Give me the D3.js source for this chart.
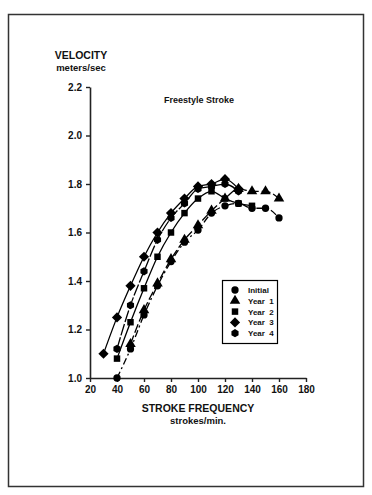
<!DOCTYPE html>
<html>
<head>
<meta charset="utf-8">
<title>Freestyle Stroke</title>
<script src="https://d3js.org/d3.v7.min.js"></script>
<style>
	body { margin: 0; background: #fff; }
	text { font-family: "Liberation Sans", Arial, sans-serif; font-weight: bold; fill: #111; }
</style>
</head>
<body>
<script type="text/javascript">
	var screenWidth  = 372;
	var screenHeight = 495;

	// data
	var seriesNames = ["Initial", "Year  1", "Year  2", "Year  3", "Year  4"];

	var initialX = [40, 50, 60, 70, 80, 90, 100, 110, 120, 130, 140, 150, 160];
	var initialY = [1.00, 1.12, 1.26, 1.38, 1.48, 1.56, 1.61, 1.68, 1.71, 1.72, 1.70, 1.70, 1.66];

	var year1X = [50, 60, 70, 80, 90, 100, 110, 120, 130, 140, 150, 160];
	var year1Y = [1.14, 1.28, 1.39, 1.49, 1.57, 1.63, 1.69, 1.74, 1.78, 1.77, 1.77, 1.74];

	var year2X = [40, 50, 60, 70, 80, 90, 100, 110, 120, 130, 140];
	var year2Y = [1.08, 1.23, 1.37, 1.50, 1.60, 1.68, 1.74, 1.77, 1.74, 1.72, 1.71];

	var year3X = [30, 40, 50, 60, 70, 80, 90, 100, 110, 120, 130];
	var year3Y = [1.10, 1.25, 1.38, 1.50, 1.60, 1.68, 1.74, 1.79, 1.80, 1.82, 1.78];

	var year4X = [40, 50, 60, 70, 80, 90, 100, 110, 120, 130];
	var year4Y = [1.12, 1.30, 1.44, 1.57, 1.66, 1.72, 1.78, 1.79, 1.80, 1.77];

	var xTicks = [20, 40, 60, 80, 100, 120, 140, 160, 180];
	var yTicks = [1.0, 1.2, 1.4, 1.6, 1.8, 2.0, 2.2];

	var hexagon = {
		draw: function(ctx, size) {
			var r = Math.sqrt(size / 2.598);
			for (var i = 0; i < 6; i++) {
				var a = Math.PI / 6 + i * Math.PI / 3;
				if (i == 0) ctx.moveTo(r * Math.cos(a), r * Math.sin(a));
				else ctx.lineTo(r * Math.cos(a), r * Math.sin(a));
			}
			ctx.closePath();
		}
	};
	// square turned 45 degrees (sigmaplot style diamond)
	var diamond = {
		draw: function(ctx, size) {
			var r = Math.sqrt(size / 2);
			ctx.moveTo(0, -r);
			ctx.lineTo(r, 0);
			ctx.lineTo(0, r);
			ctx.lineTo(-r, 0);
			ctx.closePath();
		}
	};

	var series = [
		{ name: seriesNames[0], xs: initialX, ys: initialY, sym: d3.symbolCircle,   size: 42, dash: "7,3,2,3" },
		{ name: seriesNames[1], xs: year1X,   ys: year1Y,   sym: d3.symbolTriangle, size: 48, dash: "9,3" },
		{ name: seriesNames[2], xs: year2X,   ys: year2Y,   sym: d3.symbolSquare,   size: 42, dash: null },
		{ name: seriesNames[3], xs: year3X,   ys: year3Y,   sym: diamond,           size: 52, dash: null },
		{ name: seriesNames[4], xs: year4X,   ys: year4Y,   sym: hexagon,           size: 44, dash: "12,2" }
	];

	var xScale = d3.scaleLinear().domain([20, 180]).range([90, 306]);
	var yScale = d3.scaleLinear().domain([1.0, 2.2]).range([378, 87]);

	var svg = d3.select("body").append("svg")
		.attr("width", screenWidth)
		.attr("height", screenHeight);

	// frame
	svg.append("rect")
		.attr("x", 8.5).attr("y", 14.5)
		.attr("width", 355).attr("height", 472)
		.attr("fill", "none").attr("stroke", "#333").attr("stroke-width", 1.5);

	// axes
	var xAxis = svg.append("g")
		.attr("transform", "translate(0," + yScale(1.0) + ")")
		.call(d3.axisBottom(xScale).tickValues(xTicks).tickSize(4).tickPadding(4).tickSizeOuter(0));
	var yAxis = svg.append("g")
		.attr("transform", "translate(" + xScale(20) + ",0)")
		.call(d3.axisLeft(yScale).tickValues(yTicks).tickSize(4).tickPadding(4).tickSizeOuter(0)
			.tickFormat(d3.format(".1f")));

	[xAxis, yAxis].forEach(function(ax) {
		ax.select(".domain").attr("stroke", "#222").attr("stroke-width", 1.6);
		ax.selectAll(".tick line").attr("stroke", "#222").attr("stroke-width", 1.4);
		ax.selectAll(".tick text")
			.style("font-family", "'Liberation Sans', Arial, sans-serif")
			.style("font-weight", "bold").style("font-size", "10px").attr("fill", "#222");
	});

	// lines
	var line = d3.line()
		.x(d => xScale(d[0]))
		.y(d => yScale(d[1]))
		.curve(d3.curveMonotoneX);

	series.forEach(function(s) {
		var pts = s.xs.map((x, i) => [x, s.ys[i]]);
		svg.append("path")
			.attr("d", line(pts))
			.attr("fill", "none")
			.attr("stroke", "#000")
			.attr("stroke-width", 1.3)
			.attr("stroke-dasharray", s.dash);
	});

	// markers
	series.forEach(function(s) {
		var pts = s.xs.map((x, i) => [x, s.ys[i]]);
		svg.append("g").selectAll("path")
			.data(pts)
			.enter().append("path")
			.attr("d", d3.symbol().type(s.sym).size(s.size))
			.attr("transform", d => "translate(" + xScale(d[0]) + "," + yScale(d[1]) + ")")
			.attr("fill", "#000");
	});

	// titles
	svg.append("text").attr("x", 81).attr("y", 59).attr("text-anchor", "middle")
		.style("font-size", "10.5px").text("VELOCITY");
	svg.append("text").attr("x", 81).attr("y", 71).attr("text-anchor", "middle")
		.style("font-size", "9.5px").text("meters/sec");
	svg.append("text").attr("x", 164).attr("y", 103)
		.style("font-size", "9px").text("Freestyle Stroke");
	svg.append("text").attr("x", 198).attr("y", 412).attr("text-anchor", "middle")
		.style("font-size", "10.5px").text("STROKE FREQUENCY");
	svg.append("text").attr("x", 198).attr("y", 424).attr("text-anchor", "middle")
		.style("font-size", "9.5px").text("strokes/min.");

	// legend
	var legend = svg.append("g");
	legend.append("rect")
		.attr("x", 222.5).attr("y", 280.5).attr("width", 55).attr("height", 63)
		.attr("fill", "#fff").attr("stroke", "#000").attr("stroke-width", 1.2);
	series.forEach(function(s, i) {
		var ly = 290 + i * 10.8;
		legend.append("path")
			.attr("d", d3.symbol().type(s.sym).size(s.size))
			.attr("transform", "translate(235," + ly + ")")
			.attr("fill", "#000");
		legend.append("text")
			.attr("x", 248).attr("y", ly + 3)
			.attr("xml:space", "preserve")
			.style("white-space", "pre")
			.style("font-size", "8px")
			.text(s.name);
	});
</script>
</body>
</html>
